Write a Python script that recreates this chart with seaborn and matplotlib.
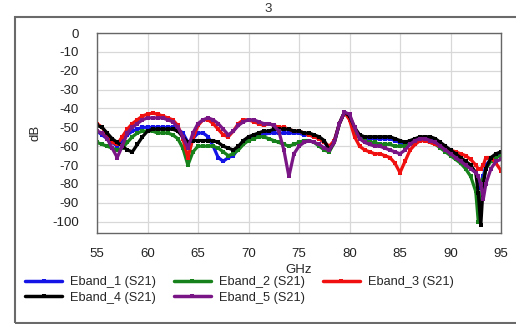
import numpy as np
import pandas as pd
import matplotlib
matplotlib.use("Agg")
import matplotlib.pyplot as plt
import seaborn as sns
from matplotlib.patches import Rectangle
from matplotlib.lines import Line2D

freq = [55, 55.5, 56, 56.5, 57, 57.5, 58, 58.5, 59, 59.5,
        60, 60.5, 61, 61.5, 62, 62.5, 63, 63.5, 64, 64.5,
        65, 65.5, 66, 66.5, 67, 67.5, 68, 68.5, 69, 69.5,
        70, 70.5, 71, 71.5, 72, 72.5, 73, 73.5, 74, 74.5,
        75, 75.5, 76, 76.5, 77, 77.5, 78, 78.5, 79, 79.5,
        80, 80.5, 81, 81.5, 82, 82.5, 83, 83.5, 84, 84.5,
        85, 85.5, 86, 86.5, 87, 87.5, 88, 88.5, 89, 89.5,
        90, 90.5, 91, 91.5, 92, 92.5, 92.75, 93, 93.25, 93.5,
        94, 94.5, 95]

eband_1 = [-52, -54, -56, -58, -60, -57, -54, -52, -51, -50,
           -50, -50, -50, -50, -50, -50, -51, -53, -58, -56,
           -53, -53, -55, -60, -66, -68, -66, -65, -61, -57,
           -56, -55, -54, -54, -53, -53, -53, -53, -53, -53,
           -53, -54, -54, -55, -56, -58, -61, -57, -48, -42,
           -45, -51, -55, -56, -56, -56, -56, -56, -56, -57,
           -58, -59, -58, -57, -56, -55, -56, -57, -59, -61,
           -63, -65, -67, -69, -71, -74, -78, -82, -76, -70,
           -67, -65, -64]

eband_2 = [-58, -59, -60, -61, -62, -61, -58, -55, -53, -52,
           -52, -52, -53, -53, -53, -54, -56, -61, -70, -63,
           -60, -60, -60, -60, -61, -63, -65, -64, -62, -59,
           -57, -56, -55, -55, -56, -57, -58, -59, -60, -59,
           -58, -57, -57, -58, -60, -62, -63, -58, -48, -42,
           -45, -52, -56, -57, -58, -58, -59, -59, -59, -60,
           -60, -60, -59, -58, -57, -57, -58, -59, -61, -63,
           -65, -67, -69, -72, -76, -84, -100, -88, -78, -72,
           -68, -66, -65]

eband_3 = [-48, -50, -54, -58, -59, -55, -51, -48, -46, -44,
           -43, -42.5, -43, -44, -45, -46, -49, -56, -66, -56,
           -49, -46, -46, -48, -51, -54, -55, -52, -48, -46,
           -46, -47, -48, -49, -48, -49, -50, -50, -51, -52,
           -52, -53, -54, -55, -56, -58, -60, -57, -48, -42,
           -46, -55, -60, -62, -63, -64, -64, -65, -66, -69,
           -74, -68, -62, -59, -57, -57, -58, -59, -60, -61,
           -62, -63, -64, -65, -67, -70, -72, -72, -70, -66,
           -66, -69, -73]

eband_4 = [-49, -50, -53, -56, -58, -60, -62, -63, -59, -55,
           -52, -51, -51, -51, -51, -51, -52, -55, -58, -57,
           -57, -57, -57, -57, -58, -60, -61, -62, -60, -57,
           -55, -54, -53, -52, -52, -51, -51, -51, -51, -52,
           -52, -53, -53, -54, -55, -57, -62, -58, -48, -42,
           -44, -50, -54, -55, -55, -55, -55, -55, -55, -56,
           -57, -58, -57, -56, -55, -55, -55, -56, -58, -60,
           -62, -64, -66, -68, -70, -74, -85, -102, -80, -72,
           -66, -64, -63]

eband_5 = [-52, -53, -56, -61, -66, -60, -53, -50, -48, -46,
           -45, -45, -45, -45, -46, -47, -50, -55, -61, -53,
           -48, -46, -45, -46, -48, -51, -54, -52, -49, -47,
           -46, -46, -47, -48, -48, -49, -52, -62, -76, -64,
           -60, -58, -57, -58, -59, -61, -62, -58, -48, -42,
           -43, -50, -56, -58, -59, -60, -60, -61, -62, -63,
           -64, -62, -59, -57, -56, -56, -57, -58, -60, -62,
           -64, -66, -68, -70, -72, -74, -76, -80, -88, -80,
           -72, -68, -67]

series_names = ["Eband_1 (S21)", "Eband_2 (S21)", "Eband_3 (S21)",
                "Eband_4 (S21)", "Eband_5 (S21)"]
series_values = [eband_1, eband_2, eband_3, eband_4, eband_5]
colors = ["#1414e6", "#17821b", "#f01010", "#000000", "#7a1585"]

x_ticks = [55, 60, 65, 70, 75, 80, 85, 90, 95]
y_ticks = [0, -10, -20, -30, -40, -50, -60, -70, -80, -90, -100]

frames = []
for name, vals in zip(series_names, series_values):
    frames.append(pd.DataFrame({"GHz": freq, "dB": vals, "series": name}))
df = pd.concat(frames, ignore_index=True)

sns.set_theme(style="whitegrid")
plt.rcParams["font.family"] = ["Liberation Sans", "DejaVu Sans"]
plt.rcParams["axes.unicode_minus"] = False

fig = plt.figure(figsize=(5.16, 3.24), dpi=100)
ax = fig.add_axes([97/516, 1 - 233/324, (501-97)/516, (233-33)/324])

palette = dict(zip(series_names, colors))
sns.lineplot(data=df, x="GHz", y="dB", hue="series", palette=palette,
             hue_order=series_names, sort=False, estimator=None,
             linewidth=2.3, marker="s", markersize=2.2, markeredgewidth=0,
             legend=False, ax=ax)

ax.set_xlim(55, 95)
ax.set_ylim(-106, 0)
ax.set_xticks(x_ticks)
ax.set_yticks(y_ticks)
ax.tick_params(axis="both", labelsize=9.5, colors="#222222", length=3,
               width=0.8, direction="out")
ax.tick_params(axis="x", pad=8)
ax.tick_params(axis="y", pad=10)
ax.tick_params(axis="both", which="both", color="#555555")
ax.grid(True, color="#d8d8d8", linewidth=0.9)
for s in ax.spines.values():
    s.set_visible(True)
    s.set_color("#666666")
    s.set_linewidth(1.0)
ax.set_xlabel("GHz", fontsize=9.5, labelpad=3)
ax.set_ylabel("dB", fontsize=9.5, labelpad=8)

# legend (row-major order emulated)
handles = [Line2D([0], [0], color=c, lw=2.5, marker="s", markersize=3.5,
                  markeredgewidth=0) for c in colors]
order = [0, 3, 1, 4, 2]
leg = fig.legend([handles[i] for i in order], [series_names[i] for i in order],
                 ncol=3, loc="upper left", bbox_to_anchor=(25/516, 1 - 276/324),
                 frameon=False, fontsize=9.2, handlelength=2.9,
                 columnspacing=1.4, handletextpad=0.62, labelspacing=0.3,
                 borderaxespad=0, borderpad=0)

fig.text(268/516, 1 - 9/324, "3", ha="center", va="center", fontsize=9.5,
         color="#333333")
fig.patches.append(Rectangle((15/516, 1 - 323/324), 1.0, (323-17)/324,
                             transform=fig.transFigure, fill=False,
                             edgecolor="#6a6a6a", linewidth=1.5, clip_on=False))

fig.savefig("out.png", dpi=100)
